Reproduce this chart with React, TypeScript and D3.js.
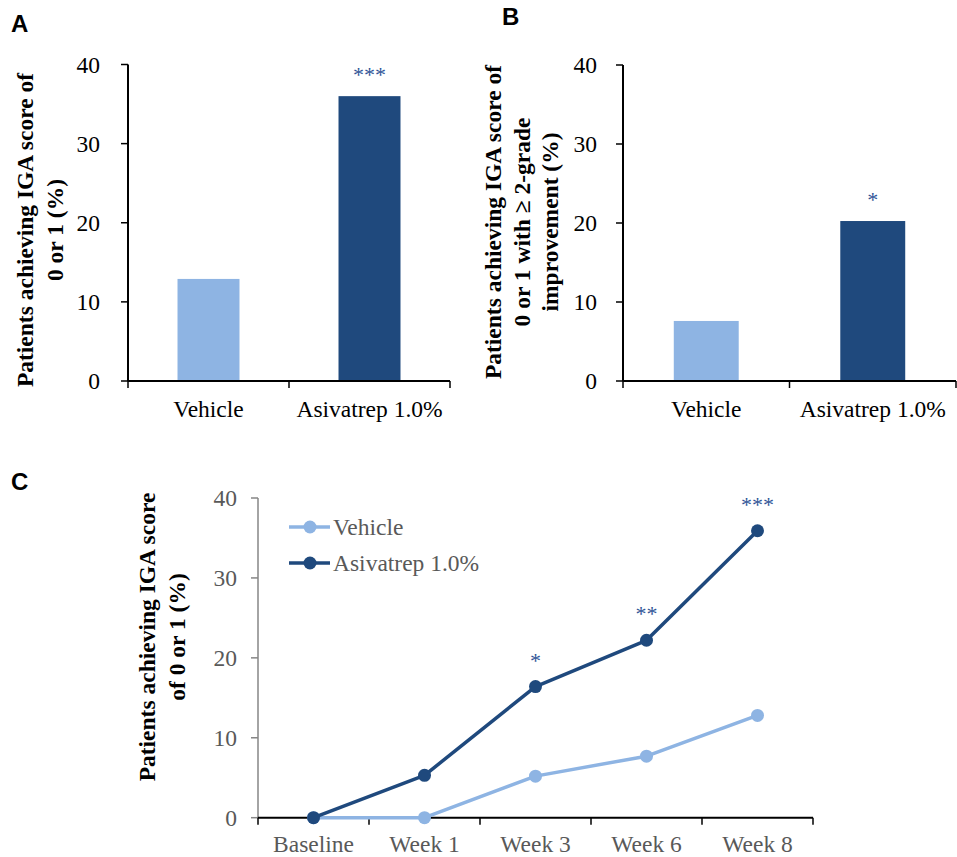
import React from "react";
import * as d3 from "d3";

const barCategories = ["Vehicle", "Asivatrep 1.0%"];
const panelAValues = [12.9, 36.0];
const panelAStars = ["", "***"];
const panelBValues = [7.6, 20.25];
const panelBStars = ["", "*"];
const yTicks = [0, 10, 20, 30, 40];

const weeks = ["Baseline", "Week 1", "Week 3", "Week 6", "Week 8"];
const vehicleSeries = [0, 0, 5.2, 7.7, 12.8];
const asivatrepSeries = [0, 5.3, 16.4, 22.2, 35.9];
const lineStars = ["", "", "*", "**", "***"];
const seriesNames = ["Vehicle", "Asivatrep 1.0%"];

const LIGHT = "#8EB4E3";
const DARK = "#1F497D";
const STAR = "#2F5597";
const SERIF = "'Liberation Serif', 'Times New Roman', serif";
const SANS = "'Liberation Sans', Arial, sans-serif";
const FS = 23.5;

type BarProps = {
  values: number[];
  stars: string[];
  x0: number;
  x1: number;
  yTop: number;
  yBottom: number;
  barFrac: number;
  tickLabelGap: number;
  titleLines: string[];
  titleXs: number[];
  titleY: number;
};

function BarPanel(p: BarProps) {
  const x = d3.scaleBand<string>().domain(barCategories).range([p.x0, p.x1]).padding(0);
  const y = d3.scaleLinear().domain([0, 40]).range([p.yBottom, p.yTop]);
  const bw = x.bandwidth() * p.barFrac;
  const colors = [LIGHT, DARK];
  return (
    <g>
      {barCategories.map((c, i) => {
        const cx = (x(c) as number) + x.bandwidth() / 2;
        return (
          <g key={c}>
            <rect x={cx - bw / 2} y={y(p.values[i])} width={bw} height={y(0) - y(p.values[i])} fill={colors[i]} />
            {p.stars[i] && (
              <text x={cx} y={y(p.values[i]) - 25 + 11} textAnchor="middle" fontFamily={SERIF} fontSize={22} fill={STAR}>
                {p.stars[i]}
              </text>
            )}
            <text x={cx} y={417} textAnchor="middle" fontFamily={SERIF} fontSize={FS} fill="#000">
              {c}
            </text>
          </g>
        );
      })}
      {/* y axis */}
      <line x1={p.x0} x2={p.x0} y1={y(40)} y2={y(0)} stroke="#000" strokeWidth={2} />
      {yTicks.map((t) => (
        <g key={t}>
          <line x1={p.x0 - 7} x2={p.x0} y1={y(t)} y2={y(t)} stroke="#000" strokeWidth={1.5} />
          <text x={p.x0 - p.tickLabelGap} y={y(t)} dy="0.35em" textAnchor="end" fontFamily={SERIF} fontSize={FS} fill="#000">
            {t}
          </text>
        </g>
      ))}
      {/* x axis */}
      <line x1={p.x0} x2={p.x1} y1={y(0)} y2={y(0)} stroke="#000" strokeWidth={2} />
      {[p.x0, ...barCategories.map((c) => (x(c) as number) + x.bandwidth())].map((tx, i) => (
        <line key={i} x1={tx} x2={tx} y1={y(0)} y2={y(0) + 7} stroke="#000" strokeWidth={1.5} />
      ))}
      {p.titleLines.map((l, i) => (
        <text
          key={i}
          transform={`translate(${p.titleXs[i]},${p.titleY}) rotate(-90)`}
          textAnchor="middle"
          dy="0.35em"
          fontFamily={SERIF}
          fontWeight="bold"
          fontSize={FS}
          fill="#000"
        >
          {l}
        </text>
      ))}
    </g>
  );
}

function LinePanel() {
  const x0 = 258;
  const x1 = 813;
  const x = d3.scaleBand<string>().domain(weeks).range([x0, x1]).padding(0);
  const y = d3.scaleLinear().domain([0, 40]).range([817.7, 498]);
  const cx = (w: string) => (x(w) as number) + x.bandwidth() / 2;
  const line = d3
    .line<number>()
    .x((_, i) => cx(weeks[i]))
    .y((v) => y(v));
  const series = [
    { name: seriesNames[0], values: vehicleSeries, color: LIGHT },
    { name: seriesNames[1], values: asivatrepSeries, color: DARK },
  ];
  const legendY = [527, 563];
  return (
    <g>
      {/* axes */}
      <line x1={x0} x2={x0} y1={y(40)} y2={y(0)} stroke="#868686" strokeWidth={1.5} />
      {yTicks.map((t) => (
        <g key={t}>
          <line x1={x0 - 7} x2={x0} y1={y(t)} y2={y(t)} stroke="#868686" strokeWidth={1.5} />
          <text x={x0 - 21} y={y(t)} dy="0.35em" textAnchor="end" fontFamily={SERIF} fontSize={FS} fill="#595959">
            {t}
          </text>
        </g>
      ))}
      <line x1={x0} x2={x1} y1={y(0)} y2={y(0)} stroke="#000" strokeWidth={2} />
      {[x0, ...weeks.map((w) => (x(w) as number) + x.bandwidth())].map((tx, i) => (
        <line key={i} x1={tx} x2={tx} y1={y(0)} y2={y(0) + 7} stroke="#000" strokeWidth={1.5} />
      ))}
      {weeks.map((w) => (
        <text key={w} x={cx(w)} y={852} textAnchor="middle" fontFamily={SERIF} fontSize={FS} fill="#595959">
          {w}
        </text>
      ))}
      {series.map((s) => (
        <g key={s.name}>
          <path d={line(s.values) as string} fill="none" stroke={s.color} strokeWidth={3.5} strokeLinejoin="round" />
          {s.values.map((v, i) => (
            <circle key={i} cx={cx(weeks[i])} cy={y(v)} r={6.5} fill={s.color} />
          ))}
        </g>
      ))}
      {lineStars.map((st, i) =>
        st ? (
          <text key={i} x={cx(weeks[i])} y={y(asivatrepSeries[i]) - 30 + 11} textAnchor="middle" fontFamily={SERIF} fontSize={22} fill={STAR}>
            {st}
          </text>
        ) : null
      )}
      {/* legend */}
      {series.map((s, i) => (
        <g key={s.name}>
          <line x1={289} x2={330} y1={legendY[i]} y2={legendY[i]} stroke={s.color} strokeWidth={3.5} />
          <circle cx={310} cy={legendY[i]} r={6.5} fill={s.color} />
          <text x={333} y={legendY[i]} dy="0.35em" fontFamily={SERIF} fontSize={FS} fill="#595959">
            {s.name}
          </text>
        </g>
      ))}
      {["Patients achieving IGA score", "of 0 or 1 (%)"].map((l, i) => (
        <text
          key={i}
          transform={`translate(${[147, 177][i]},637) rotate(-90)`}
          textAnchor="middle"
          dy="0.35em"
          fontFamily={SERIF}
          fontWeight="bold"
          fontSize={FS}
          fill="#000"
        >
          {l}
        </text>
      ))}
    </g>
  );
}

export default function App() {
  return (
    <svg
      width={957}
      height={857}
      viewBox="0 0 957 857"
      style={{ position: "absolute", left: 0, top: 0, background: "#fff" }}
    >
      <rect width={957} height={857} fill="#fff" />
      <text x={11} y={32} fontFamily={SANS} fontWeight="bold" fontSize={24} fill="#000">A</text>
      <text x={502} y={25} fontFamily={SANS} fontWeight="bold" fontSize={24} fill="#000">B</text>
      <text x={11} y={490} fontFamily={SANS} fontWeight="bold" fontSize={24} fill="#000">C</text>
      <BarPanel
        values={panelAValues}
        stars={panelAStars}
        x0={128}
        x1={450}
        yTop={64.5}
        yBottom={381}
        barFrac={0.385}
        tickLabelGap={28}
        titleLines={["Patients achieving IGA score of", "0 or 1 (%)"]}
        titleXs={[25, 55]}
        titleY={230}
      />
      <BarPanel
        values={panelBValues}
        stars={panelBStars}
        x0={623}
        x1={956}
        yTop={65}
        yBottom={381}
        barFrac={0.39}
        tickLabelGap={26}
        titleLines={["Patients achieving IGA score of", "0 or 1 with \u2265 2-grade", "improvement (%)"]}
        titleXs={[493, 522, 550]}
        titleY={222}
      />
      <LinePanel />
    </svg>
  );
}
